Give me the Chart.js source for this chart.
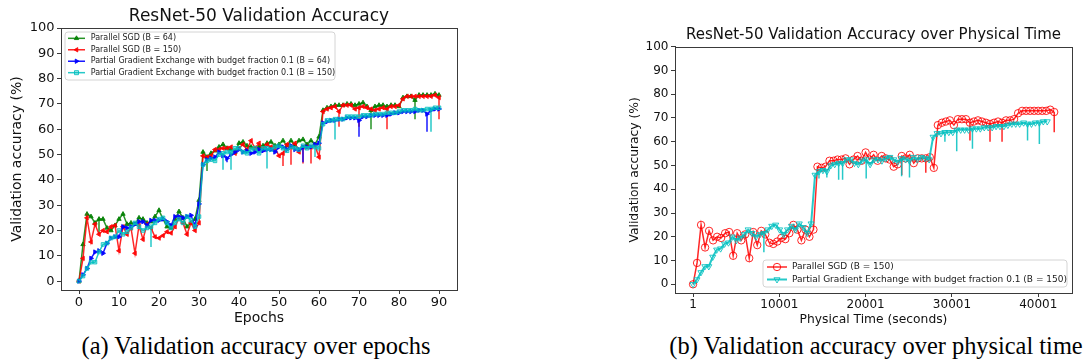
<!DOCTYPE html>
<html><head><meta charset="utf-8">
<script src="https://cdn.jsdelivr.net/npm/chart.js@4.4.0/dist/chart.umd.min.js"></script>
<style>
html,body{margin:0;padding:0;background:#fff;width:1084px;height:363px;overflow:hidden;}
#wa{position:absolute;left:0;top:0;width:470px;height:330px;}
#wb{position:absolute;left:560px;top:0;width:524px;height:330px;}
.cap{position:absolute;top:333px;font-family:'Liberation Serif',serif;font-size:24.4px;line-height:26px;white-space:nowrap;color:#000;transform:translateX(-50%);}
</style></head><body>
<div id="wa"><canvas id="ca"></canvas></div>
<div id="wb"><canvas id="cb"></canvas></div>
<div class="cap" style="left:256px">(a) Validation accuracy over epochs</div>
<div class="cap" style="left:876px">(b) Validation accuracy over physical time</div>
<script>
// ---------- data ----------
const epochs = [0,1,2,3,4,5,6,7,8,9,10,11,12,13,14,15,16,17,18,19,20,21,22,23,24,25,26,27,28,29,30,
31,32,33,34,35,36,37,38,39,40,41,42,43,44,45,46,47,48,49,50,51,52,53,54,55,56,57,58,59,60,
61,62,63,64,65,66,67,68,69,70,71,72,73,74,75,76,77,78,79,80,81,82,83,84,85,86,87,88,89,90];

const accPSGD64 = [0,14.5,26.5,25.5,23,24.5,24.5,21,20,22,24.5,26.5,22.5,23,22.5,25,24.5,23,23.5,25.5,28,24.5,21.5,21,24.5,27.5,25,21.5,23,24.5,32,
51,49,50.5,51.5,53,54,52.5,52,51,54.5,55,53.5,53,52.5,53,53.5,54.5,55,53.5,54,55.5,53.5,55.5,53.5,55.5,56,54,55.5,54,57,
67.5,68.5,69,69.5,69.5,69.5,70,70,69.5,70,70.5,69,67.5,69,69.5,69.5,69,69.5,69.5,69,72.5,73,73,71.5,73.5,73.5,73.5,73.5,74,73.5];

const accPSGD150 = [0,9,25,15.5,22.5,18.5,20,19.5,21.5,22,12,21.5,18.5,21,11,22,16.5,22.5,21,17.5,17,18,19.5,19,21.5,25,23,18.5,23,20,23,
49.5,49,49.5,52,52,52.5,52.5,53,50.5,52.5,54,52,55.5,52.5,54.5,52,54,53,52.5,49.5,50.5,54,53,54.5,51,53,53,53,53.5,49,
67,68,68.5,69,67,69.5,69.5,69.5,68,68.5,69,68.5,68,67.5,68,68.5,68,69,69,69.5,72,73,73,73,73,73,73,73,73.5,72.5];

const accPGE64 = [0,2.5,5,9,11.5,12,11,15,17,17.5,17.5,21.5,21,21.5,22.5,23.5,23.5,22,24,24,24,24.5,23.5,22,25.5,25.5,25,25.5,26,22,30.5,
46,48,48.5,49,51,49.5,48.5,50,51,52,51,51.5,50.5,51,52,51.5,52,52,51,53,53,52,53.5,52,52,53,53,53,54,54.5,
62.5,63,63.5,63.5,64,64,64.5,64.5,64.5,63.5,65,65,65.5,65.5,65.5,65.5,65.5,66,66.5,66.5,67,67,67,67,67.5,67.5,66,67.5,68,68];

const accPGE150 = [0,2,5,7.5,7.5,11.5,14.5,15,17,17.5,20,18.5,19.5,21,23,21.5,20,21,21.5,23,24.5,25,23,21,23,24.5,23,25.5,24,21.5,25.5,
46,47.5,48,47.5,50,50.5,51,51,52.5,52.5,51,50.5,52,52.5,50.5,52.5,52.5,52,53,53.5,52.5,51.5,53,52.5,52,53.5,52.5,53.5,53,52.5,
62,63.5,63.5,64,64,64,65,65,65,65,65.5,65.5,65.5,66,66,66,66.5,66.5,66.5,67,67.5,67.5,67.5,68,67.5,67.5,68,68,68.5,68.5];

// physical time (seconds) of each epoch's evaluation
const timePSGD150 = [1,466,931,1396,1861,2326,2791,3256,3721,4186,4651,5116,5581,6046,6511,6976,7441,7906,8371,8836,9301,9766,10231,10696,11161,11626,12091,12556,13021,13486,13951,
14416,14881,15346,15811,16276,16741,17206,17671,18136,18601,19066,19531,19996,20461,20926,21391,21856,22321,22786,23251,23716,24181,24646,25111,25576,26041,26506,26971,27436,27901,
28366,28831,29296,29761,30226,30691,31156,31621,32086,32551,33016,33481,33946,34411,34876,35341,35806,36271,36736,37201,37666,38131,38596,39061,39526,39991,40456,40921,41386,41851];
const timePGE150 = [1,457,913,1369,1825,2281,2737,3193,3649,4105,4561,5017,5473,5929,6385,6841,7297,7753,8209,8665,9121,9577,10033,10489,10945,11401,11857,12313,12769,13225,13681,
14137,14593,15049,15505,15961,16417,16873,17329,17785,18241,18697,19153,19609,20065,20521,20977,21433,21889,22345,22801,23257,23713,24169,24625,25081,25537,25993,26449,26905,27361,
27817,28273,28729,29185,29641,30097,30553,31009,31465,31921,32377,32833,33289,33745,34201,34657,35113,35569,36025,36481,36937,37393,37849,38305,38761,39217,39673,40129,40585,41041];

// downward error spikes: [epoch index, lower end]
const spikesPSGD64  = [[5,19],[32,43.5],[73,60],[84,64]];
const spikesPSGD150 = [[51,45.5],[53,46],[56,46.5],[58,46.5],[65,61],[70,61],[77,60],[90,64]];
const spikesPGE64   = [[37,47],[56,47],[70,57],[87,59]];
const spikesPGE150  = [[18,13.5],[36,44],[38,44],[47,44.5],[59,49],[64,56],[88,59]];
const spikesTimePSGD150 = [[52,46],[58,47],[69,60.5],[74,60],[77,60],[90,64]];
const spikesTimePGE150  = [[18,13.5],[32,44.5],[34,45],[37,44],[38,44],[44,44.5],[53,45.5],[55,45],[64,60],[67,56],[71,57],[85,60.5],[88,59]];

const epochTicks = [0,10,20,30,40,50,60,70,80,90];
const timeTicks = [1,10001,20001,30001,40001];
const accTicks = [0,10,20,30,40,50,60,70,80,90,100];

const labelsA = ['Parallel SGD (B = 64)','Parallel SGD (B = 150)',
  'Partial Gradient Exchange with budget fraction 0.1 (B = 64)',
  'Partial Gradient Exchange with budget fraction 0.1 (B = 150)'];
const labelsB = ['Parallel SGD (B = 150)','Partial Gradient Exchange with budget fraction 0.1 (B = 150)'];

// ---------- helpers ----------
const F = "'DejaVu Sans', sans-serif";
const GREEN='rgba(0,128,0,0.85)', RED='rgba(255,0,0,0.85)', BLUE='rgba(0,0,255,0.9)', CYAN='rgba(0,191,191,0.85)';
const SPINE='#3a3a3a';
function pts(xs, ys){ return xs.map((x,i)=>({x:x, y:ys[i]})); }
function spikePts(xs, ys, sp){ const p=[]; sp.forEach(([i,lo])=>{ p.push({x:xs[i],y:ys[i]},{x:xs[i],y:lo},{x:xs[i],y:null}); }); return p; }
function spikeSet(data, color, order){ return {data:data, borderColor:color, borderWidth:1.5, pointRadius:0, spanGaps:false, order:order, fill:false}; }

function drawMarker(ctx, style, x, y, r, rotDeg, fill, stroke, lw){
  ctx.save(); ctx.beginPath();
  if(style==='circle'){ ctx.arc(x,y,r,0,Math.PI*2); }
  else if(style==='rect'){ ctx.rect(x-r*0.8,y-r*0.8,r*1.6,r*1.6); }
  else { let a=rotDeg*Math.PI/180; ctx.moveTo(x+Math.sin(a)*r, y-Math.cos(a)*r);
    a+=2*Math.PI/3; ctx.lineTo(x+Math.sin(a)*r, y-Math.cos(a)*r);
    a+=2*Math.PI/3; ctx.lineTo(x+Math.sin(a)*r, y-Math.cos(a)*r); ctx.closePath(); }
  ctx.fillStyle=fill; ctx.fill(); ctx.strokeStyle=stroke; ctx.lineWidth=lw; ctx.stroke(); ctx.restore();
}

const frameAndLegend = {
  id:'frameAndLegend',
  afterDraw(chart, args, o){
    const ctx=chart.ctx, a=chart.chartArea;
    ctx.save();
    ctx.strokeStyle=SPINE; ctx.lineWidth=1;
    ctx.strokeRect(Math.round(a.left)+0.5, Math.round(a.top)+0.5, Math.round(a.right-a.left), Math.round(a.bottom-a.top));
    const x = o.anchor==='tl' ? a.left+o.dx : a.right-o.dx-o.w;
    const y = o.anchor==='tl' ? a.top+o.dy : a.bottom-o.dy-o.h;
    const rr=3;
    ctx.beginPath();
    ctx.moveTo(x+rr,y); ctx.lineTo(x+o.w-rr,y); ctx.arcTo(x+o.w,y,x+o.w,y+rr,rr);
    ctx.lineTo(x+o.w,y+o.h-rr); ctx.arcTo(x+o.w,y+o.h,x+o.w-rr,y+o.h,rr);
    ctx.lineTo(x+rr,y+o.h); ctx.arcTo(x,y+o.h,x,y+o.h-rr,rr);
    ctx.lineTo(x,y+rr); ctx.arcTo(x,y,x+rr,y,rr); ctx.closePath();
    ctx.fillStyle='rgba(255,255,255,0.8)'; ctx.fill();
    ctx.strokeStyle='#d4d4d4'; ctx.lineWidth=1; ctx.stroke();
    ctx.font = o.font+'px '+F; ctx.textBaseline='middle'; ctx.textAlign='left'; ctx.fillStyle='#1a1a1a';
    o.items.forEach((it,i)=>{
      const cy = y + o.pad + o.rowH*(i+0.5);
      const x0 = x + o.lineX0, x1 = x0 + o.lineLen;
      ctx.beginPath(); ctx.moveTo(x0,cy); ctx.lineTo(x1,cy);
      ctx.strokeStyle=it.color; ctx.lineWidth=it.lw; ctx.stroke();
      drawMarker(ctx, it.style, (x0+x1)/2, cy, it.r, it.rot, it.fill, it.color, 1);
      ctx.fillStyle='#1a1a1a';
      ctx.fillText(it.label, x + o.textX, cy);
    });
    ctx.restore();
  }
};

function axisOpts(min, max, ticksArr, fit, tickFont, title, titleFont, titlePad, isX){
  const o = {
    type:'linear', min:min, max:max, offset:false,
    afterBuildTicks: s => { s.ticks = ticksArr.map(v=>({value:v})); },
    ticks:{autoSkip:false, maxRotation:0, minRotation:0, font:{family:F,size:tickFont}, color:'#111', padding: isX?0.5:2.5, callback:v=>String(v)},
    grid:{display:true, drawOnChartArea:false, drawTicks:true, tickLength:4, color:SPINE},
    border:{display:true, color:SPINE, width:1},
    title:{display:true, text:title, font:{family:F,size:titleFont}, color:'#111', padding:titlePad}
  };
  if(isX) o.afterFit = s => { s.height = fit; }; else o.afterFit = s => { s.width = fit; };
  return o;
}

// ---------- chart (a) ----------
new Chart(document.getElementById('ca'), {
  type:'line',
  data:{datasets:[
    {data:pts(epochs,accPSGD64), borderColor:GREEN, backgroundColor:GREEN, borderWidth:1.5, pointStyle:'triangle', pointRadius:2.5, pointBorderWidth:1, order:8},
    spikeSet(spikePts(epochs,accPSGD64,spikesPSGD64), GREEN, 7),
    {data:pts(epochs,accPSGD150), borderColor:RED, backgroundColor:RED, borderWidth:1.5, pointStyle:'triangle', pointRotation:-90, pointRadius:2.5, pointBorderWidth:1, order:6},
    spikeSet(spikePts(epochs,accPSGD150,spikesPSGD150), RED, 5),
    {data:pts(epochs,accPGE64), borderColor:BLUE, backgroundColor:BLUE, borderWidth:1.5, pointStyle:'triangle', pointRotation:90, pointRadius:2.5, pointBorderWidth:1, order:4},
    spikeSet(spikePts(epochs,accPGE64,spikesPGE64), BLUE, 3),
    {data:pts(epochs,accPGE150), borderColor:CYAN, backgroundColor:'rgba(0,191,191,0.3)', borderWidth:1.5, pointStyle:'rect', pointRadius:2.5, pointBorderWidth:1, order:2},
    spikeSet(spikePts(epochs,accPGE150,spikesPGE150), CYAN, 1)
  ]},
  options:{
    responsive:true, maintainAspectRatio:false, animation:false, events:[],
    layout:{padding:{left:0,right:13,top:6.5,bottom:0}},
    plugins:{
      legend:{display:false}, tooltip:{enabled:false},
      title:{display:true, text:'ResNet-50 Validation Accuracy', fullSize:false, font:{family:F,size:17,weight:'normal'}, color:'#111', padding:{top:0,bottom:1.1}},
      frameAndLegend:{anchor:'tl', dx:4, dy:4, w:270, h:48, pad:0.6, rowH:11.45, lineX0:3, lineLen:17, textX:25.7, font:8,
        items:[
          {label:labelsA[0], color:GREEN, lw:1.5, style:'triangle', rot:0, r:2.5, fill:GREEN},
          {label:labelsA[1], color:RED, lw:1.5, style:'triangle', rot:-90, r:2.5, fill:RED},
          {label:labelsA[2], color:BLUE, lw:1.5, style:'triangle', rot:90, r:2.5, fill:BLUE},
          {label:labelsA[3], color:CYAN, lw:1.5, style:'rect', rot:0, r:2.5, fill:'rgba(0,191,191,0.3)'}
        ]}
    },
    scales:{
      x: axisOpts(-4.5, 94.5, epochTicks, 40, 13, 'Epochs', 14, {top:0,bottom:3.6}, true),
      y: axisOpts(-3.5, 100, accTicks, 61, 13, 'Validation accuracy (%)', 14, {top:9,bottom:0}, false)
    }
  },
  plugins:[frameAndLegend]
});

// ---------- chart (b) ----------
new Chart(document.getElementById('cb'), {
  type:'line',
  data:{datasets:[
    {data:pts(timePSGD150,accPSGD150), borderColor:RED, backgroundColor:'rgba(0,0,0,0)', borderWidth:1.5, pointStyle:'circle', pointRadius:3.7, pointBorderWidth:1, order:4},
    spikeSet(spikePts(timePSGD150,accPSGD150,spikesTimePSGD150), RED, 3),
    {data:pts(timePGE150,accPGE150), borderColor:CYAN, backgroundColor:'rgba(0,0,0,0)', borderWidth:2, pointStyle:'triangle', pointRotation:180, pointRadius:3.5, pointBorderWidth:1, order:2},
    spikeSet(spikePts(timePGE150,accPGE150,spikesTimePGE150), CYAN, 1)
  ]},
  options:{
    responsive:true, maintainAspectRatio:false, animation:false, events:[],
    layout:{padding:{left:60,right:12,top:26.4,bottom:0}},
    plugins:{
      legend:{display:false}, tooltip:{enabled:false},
      title:{display:true, text:'ResNet-50 Validation Accuracy over Physical Time', fullSize:false, font:{family:F,size:15,weight:'normal'}, color:'#111', padding:{top:0,bottom:2.3}},
      frameAndLegend:{anchor:'br', dx:5, dy:6, w:304, h:27, pad:0.75, rowH:12.5, lineX0:4, lineLen:20, textX:29, font:9,
        items:[
          {label:labelsB[0], color:RED, lw:1.5, style:'circle', rot:0, r:3.7, fill:'rgba(0,0,0,0)'},
          {label:labelsB[1], color:CYAN, lw:2, style:'triangle', rot:180, r:3.5, fill:'rgba(0,0,0,0)'}
        ]}
    },
    scales:{
      x: axisOpts(-2090, 43912, timeTicks, 37, 12, 'Physical Time (seconds)', 12.3, {top:0,bottom:2.9}, true),
      y: axisOpts(-3.66, 100, accTicks, 55, 12, 'Validation accuracy (%)', 12.3, {top:7.6,bottom:0}, false)
    }
  },
  plugins:[frameAndLegend]
});
</script>
</body></html>
